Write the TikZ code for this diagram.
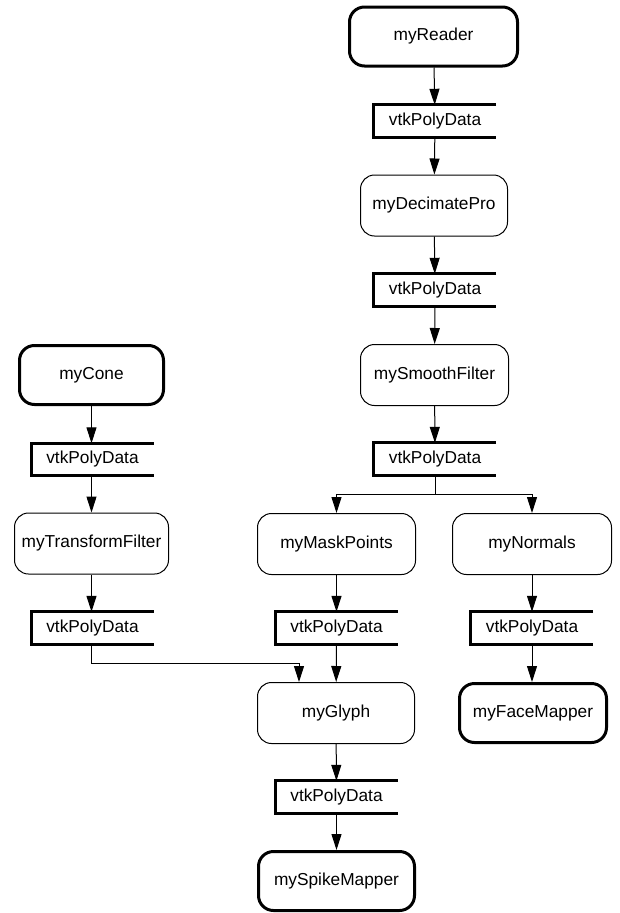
\documentclass[tikz,border=0pt]{standalone}
\usepackage{fontspec}
\setmainfont{Liberation Sans}
\usetikzlibrary{arrows.meta}
\begin{document}
\begin{tikzpicture}[x=1pt,y=-1pt,
  every node/.style={font=\fontsize{17.3}{20}\selectfont, inner sep=0pt},
  proc/.style={draw, line width=1pt, rounded corners=14pt, minimum height=61pt},
  term/.style={draw, line width=3pt, rounded corners=15pt, minimum height=59pt},
  data/.style={minimum width=122pt, minimum height=32pt},
  conn/.style={line width=1pt, -{Triangle[length=16pt,width=10pt]}},
  plain/.style={line width=1pt},
  dline/.style={line width=3pt}
]
\useasboundingbox (0,0) rectangle (619,913);
% right column
\node[term, minimum width=168pt] (reader) at (433.5,36.5) {myReader};
\node[data] (d1) at (435,121) {vtkPolyData};
\node[proc, minimum width=147pt] (decimate) at (434,205.5) {myDecimatePro};
\node[data] (d2) at (435,290) {vtkPolyData};
\node[proc, minimum width=148pt] (smooth) at (434.5,375) {mySmoothFilter};
\node[data] (d3) at (435,459) {vtkPolyData};
\node[proc, minimum width=158pt] (mask) at (336.5,544) {myMaskPoints};
\node[proc, minimum width=159pt] (normals) at (532,544) {myNormals};
\node[data] (d4) at (336.5,628) {vtkPolyData};
\node[data] (d5) at (532,628) {vtkPolyData};
\node[proc, minimum width=157pt] (glyph) at (336,713) {myGlyph};
\node[term, minimum width=147pt] (face) at (533,713) {myFaceMapper};
\node[data] (d6) at (336.5,797) {vtkPolyData};
\node[term, minimum width=156pt] (spike) at (336.5,881) {mySpikeMapper};
% left column
\node[term, minimum width=144pt] (cone) at (91.5,375) {myCone};
\node[data] (l1) at (92.5,459.5) {vtkPolyData};
\node[proc, minimum width=154pt] (transform) at (91.5,543.5) {myTransformFilter};
\node[data] (l2) at (92.5,628) {vtkPolyData};
% data brackets
\foreach \n in {d1,d2,d3,d4,d5,d6,l1,l2}
  \draw[dline] (\n.north east) -- (\n.north west) -- (\n.south west) -- (\n.south east);
% connectors
\draw[conn] (reader) -- (d1);
\draw[conn] (d1) -- (decimate);
\draw[conn] (decimate) -- (d2);
\draw[conn] (d2) -- (smooth);
\draw[conn] (smooth) -- (d3);
\coordinate (split) at (435,494);
\draw[plain] (d3.south) -- (split);
\draw[conn] (split) -| (mask.north);
\draw[conn] (split) -| (normals.north);
\draw[conn] (mask) -- (d4);
\draw[conn] (normals) -- (d5);
\draw[conn] (d4) -- (glyph);
\draw[conn] (d5.south) -- (face.north -| d5.south);
\draw[conn] (glyph) -- (d6);
\draw[conn] (d6) -- (spike);
\draw[conn] (cone) -- (l1.north -| cone.south);
\draw[conn] (l1.south -| cone.south) -- (transform.north -| cone.south);
\draw[conn] (transform.south) -- (l2.north -| transform.south);
\coordinate (bend) at (299,663.5);
\draw[conn] (l2.south -| transform.south) |- (bend) -- (bend |- glyph.north);
\end{tikzpicture}
\end{document}
